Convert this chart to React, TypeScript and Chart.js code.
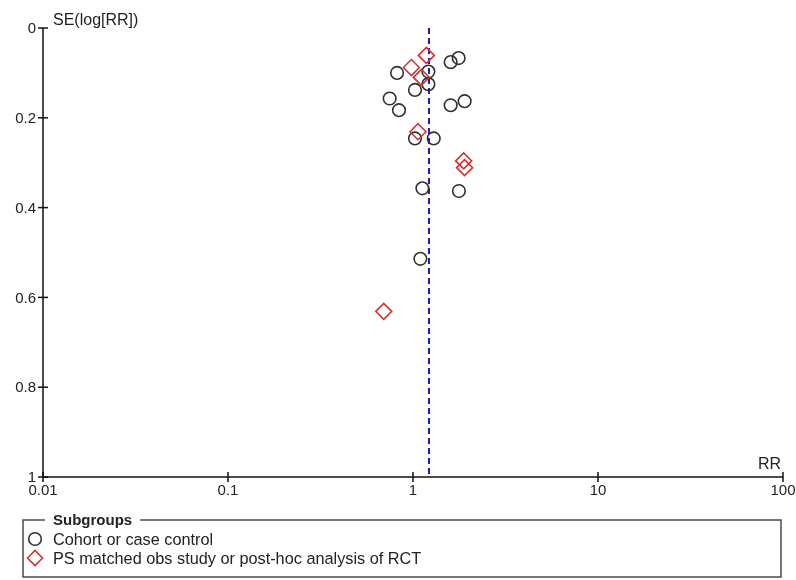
import React, { useEffect, useRef } from "react";
import { Chart, registerables } from "chart.js";

Chart.register(...registerables);

// Study estimates: relative risk and standard error of log(RR)
const cohortRR = [1.765, 1.598, 1.211, 0.82, 1.211, 1.025, 0.748, 0.84, 1.901, 1.598, 1.025, 1.294, 1.124, 1.771, 1.096];
const cohortSE = [0.067, 0.076, 0.097, 0.1, 0.125, 0.138, 0.157, 0.183, 0.163, 0.172, 0.246, 0.246, 0.357, 0.363, 0.514];

const psRR = [1.181, 0.98, 1.11, 1.064, 1.879, 1.901, 0.695];
const psSE = [0.061, 0.088, 0.11, 0.231, 0.296, 0.311, 0.631];

// Pooled estimate (vertical reference line)
const pooledRR = 1.22;

const xTicks = [0.01, 0.1, 1, 10, 100];
const xTickLabels = ["0.01", "0.1", "1", "10", "100"];
const yTicks = [0, 0.2, 0.4, 0.6, 0.8, 1];
const yTickLabels = ["0", "0.2", "0.4", "0.6", "0.8", "1"];

const seriesNames = ["Cohort or case control", "PS matched obs study or post-hoc analysis of RCT"];
const legendTitle = "Subgroups";
const xTitle = "RR";
const yTitle = "SE(log[RR])";

const CIRCLE_COLOR = "#303030";
const DIAMOND_COLOR = "#d43333";
const LINE_COLOR = "#1a1ac0";
const TEXT_COLOR = "#222222";
const FONT = "'Liberation Sans', Arial, sans-serif";

const axesPlugin = {
  id: "funnelAxes",
  afterDraw(chart: any) {
    const ctx: CanvasRenderingContext2D = chart.ctx;
    const xs = chart.scales.x;
    const ys = chart.scales.y;
    const area = chart.chartArea;
    ctx.save();

    // axis lines
    ctx.strokeStyle = "#111";
    ctx.lineWidth = 1.5;
    ctx.beginPath();
    ctx.moveTo(area.left, area.top);
    ctx.lineTo(area.left, area.bottom);
    ctx.lineTo(area.right, area.bottom);
    ctx.stroke();

    // y ticks and labels
    ctx.fillStyle = TEXT_COLOR;
    ctx.font = `15px ${FONT}`;
    ctx.textAlign = "right";
    ctx.textBaseline = "middle";
    yTicks.forEach((v, i) => {
      const y = ys.getPixelForValue(v);
      ctx.beginPath();
      ctx.moveTo(area.left - 5, y);
      ctx.lineTo(area.left + 5, y);
      ctx.stroke();
      ctx.fillText(yTickLabels[i], area.left - 7, y + 1);
    });

    // x ticks and labels
    ctx.textAlign = "center";
    ctx.textBaseline = "top";
    xTicks.forEach((v, i) => {
      const x = xs.getPixelForValue(v);
      ctx.beginPath();
      ctx.moveTo(x, area.bottom - 5);
      ctx.lineTo(x, area.bottom + 5);
      ctx.stroke();
      ctx.fillText(xTickLabels[i], x, area.bottom + 6);
    });

    // axis titles
    ctx.font = `16px ${FONT}`;
    ctx.textAlign = "left";
    ctx.textBaseline = "alphabetic";
    ctx.fillText(yTitle, area.left + 10, area.top - 3);
    ctx.textAlign = "right";
    ctx.fillText(xTitle, area.right - 2, area.bottom - 8);

    // legend box
    const bx = 23, by = 520, bw = 758, bh = 57;
    ctx.font = `bold 15px ${FONT}`;
    const titleW = ctx.measureText(legendTitle).width;
    const tx = 53;
    ctx.strokeStyle = "#4a4a4a";
    ctx.lineWidth = 1.5;
    ctx.beginPath();
    ctx.moveTo(tx - 8, by);
    ctx.lineTo(bx, by);
    ctx.lineTo(bx, by + bh);
    ctx.lineTo(bx + bw, by + bh);
    ctx.lineTo(bx + bw, by);
    ctx.lineTo(tx + titleW + 8, by);
    ctx.stroke();

    ctx.fillStyle = TEXT_COLOR;
    ctx.textAlign = "left";
    ctx.textBaseline = "alphabetic";
    ctx.fillText(legendTitle, tx, by + 5);

    // legend items
    ctx.font = `16.3px ${FONT}`;
    const mx = 35;
    const y1 = 539;
    const y2 = 558;
    ctx.lineWidth = 1.6;
    ctx.strokeStyle = CIRCLE_COLOR;
    ctx.beginPath();
    ctx.arc(mx, y1, 6.3, 0, Math.PI * 2);
    ctx.stroke();
    ctx.strokeStyle = DIAMOND_COLOR;
    ctx.beginPath();
    ctx.moveTo(mx - 7.5, y2);
    ctx.lineTo(mx, y2 - 7.5);
    ctx.lineTo(mx + 7.5, y2);
    ctx.lineTo(mx, y2 + 7.5);
    ctx.closePath();
    ctx.stroke();
    ctx.fillStyle = TEXT_COLOR;
    ctx.fillText(seriesNames[0], 53, y1 + 6);
    ctx.fillText(seriesNames[1], 53, y2 + 6);

    ctx.restore();
  },
};

export default function App() {
  const canvasRef = useRef<HTMLCanvasElement | null>(null);

  useEffect(() => {
    const canvas = canvasRef.current;
    if (!canvas) return;
    const chart = new Chart(canvas, {
      type: "scatter",
      data: {
        datasets: [
          {
            label: "pooled",
            type: "line",
            data: [
              { x: pooledRR, y: 0 },
              { x: pooledRR, y: 1 },
            ],
            borderColor: LINE_COLOR,
            borderWidth: 2,
            borderDash: [6, 4],
            pointRadius: 0,
            fill: false,
            order: 3,
          },
          {
            label: seriesNames[0],
            data: cohortRR.map((x, i) => ({ x, y: cohortSE[i] })),
            pointStyle: "circle",
            pointRadius: 6.3,
            pointBorderWidth: 1.6,
            pointBorderColor: CIRCLE_COLOR,
            pointBackgroundColor: "rgba(0,0,0,0)",
            order: 2,
          },
          {
            label: seriesNames[1],
            data: psRR.map((x, i) => ({ x, y: psSE[i] })),
            pointStyle: "rectRot",
            pointRadius: 8,
            pointBorderWidth: 1.6,
            pointBorderColor: DIAMOND_COLOR,
            pointBackgroundColor: "rgba(0,0,0,0)",
            order: 1,
          },
        ] as any,
      },
      options: {
        responsive: false,
        animation: false,
        layout: { padding: { left: 43, top: 28, right: 13, bottom: 103 } },
        plugins: {
          legend: { display: false },
          tooltip: { enabled: false },
        },
        scales: {
          x: { type: "logarithmic", min: 0.01, max: 100, display: false },
          y: { type: "linear", min: 0, max: 1, reverse: true, display: false },
        },
      },
      plugins: [axesPlugin],
    });
    return () => chart.destroy();
  }, []);

  return (
    <div style={{ position: "fixed", left: 0, top: 0, width: 796, height: 580, background: "#fff" }}>
      <canvas ref={canvasRef} width={796} height={580} style={{ width: 796, height: 580 }} />
    </div>
  );
}
